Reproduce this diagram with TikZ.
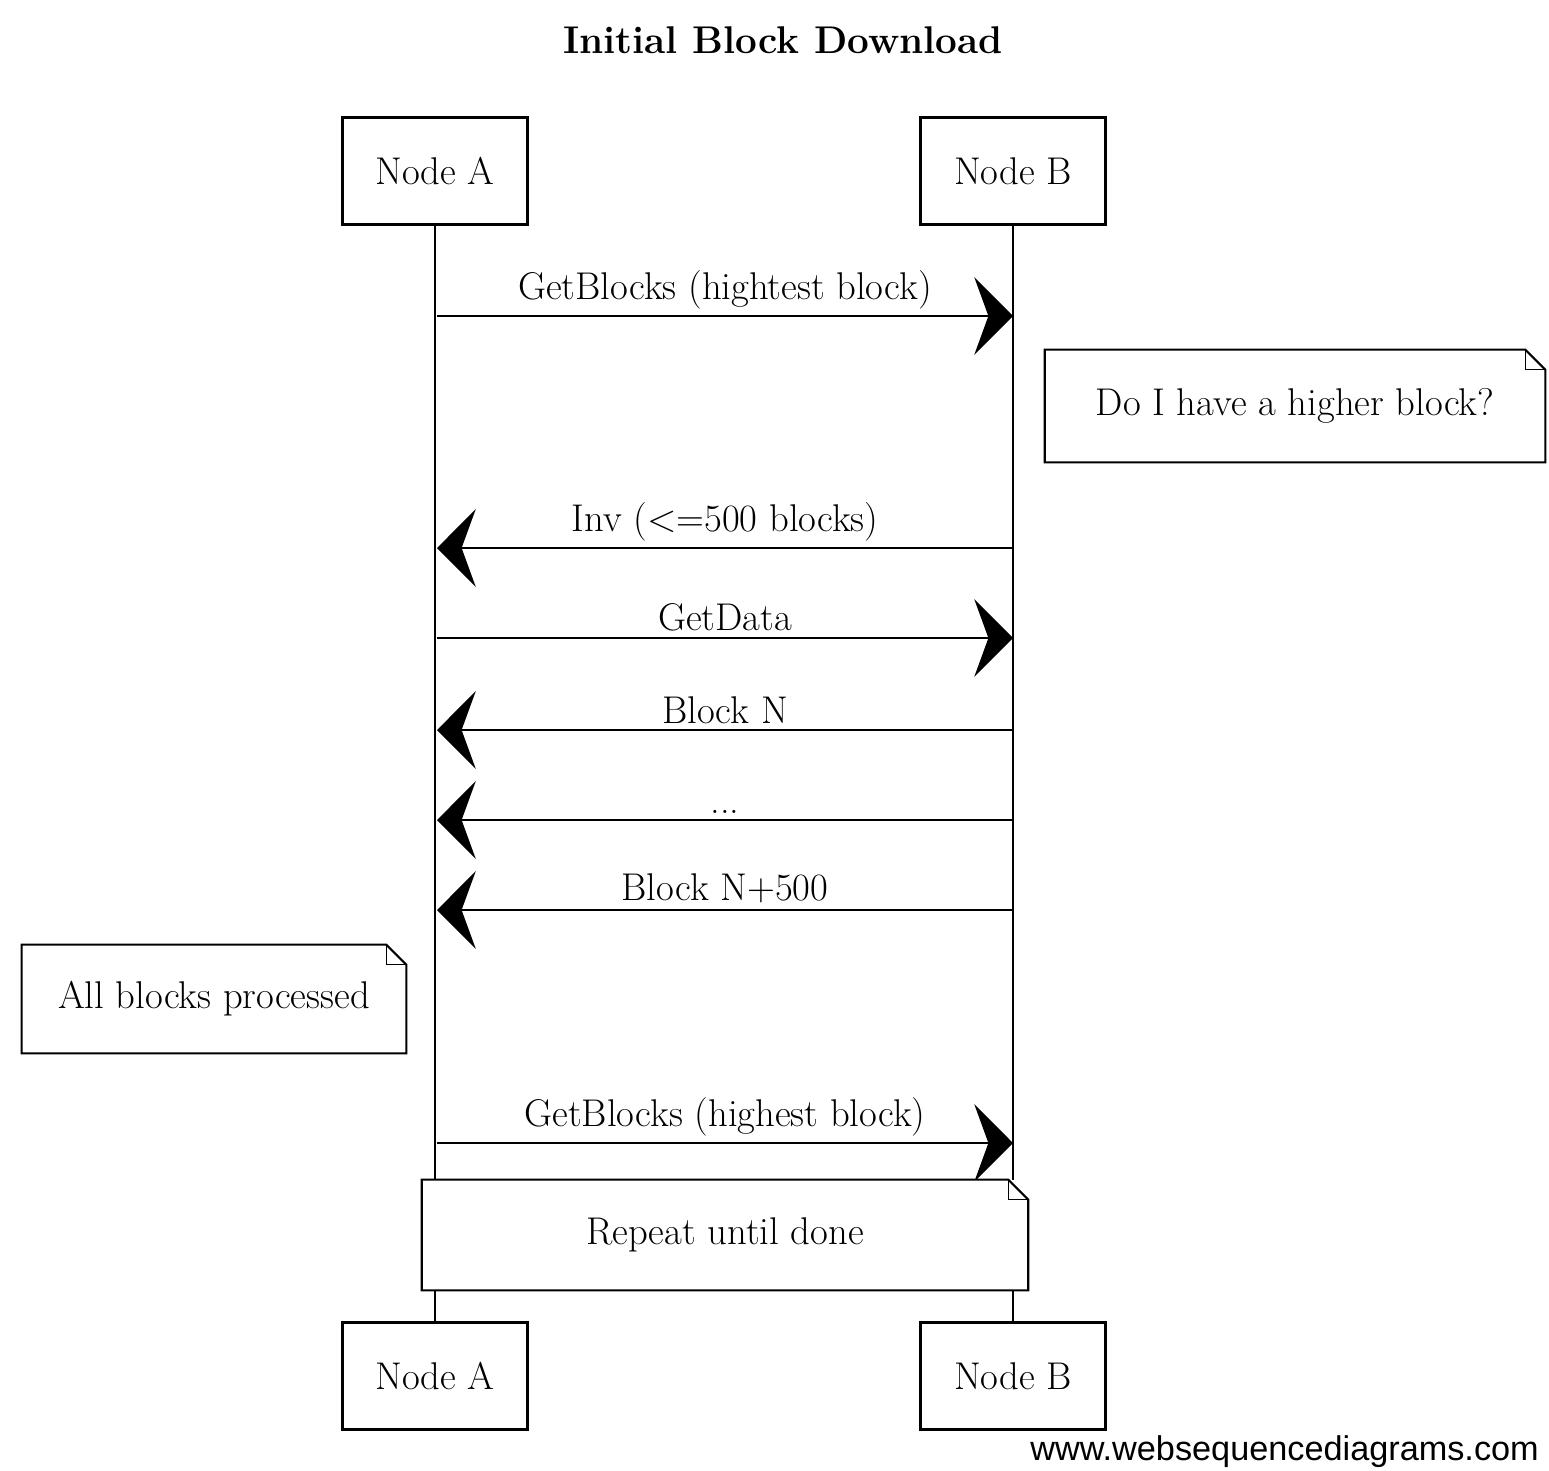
\documentclass[tikz,border=0pt]{standalone}
\usepackage{fontspec}
\usetikzlibrary{positioning,arrows.meta}
\newfontfamily\footfont{Liberation Sans}

% note outline with folded corner
\newcommand{\noteedge}[1]{%
  \draw[very thick] (#1.south west) -- (#1.south east) -- ([yshift=-0.4cm]#1.north east)
    -- ([xshift=-0.4cm]#1.north east) -- (#1.north west) -- cycle;
  \draw[thick] ([xshift=-0.4cm]#1.north east) |- ([yshift=-0.4cm]#1.north east);}

\begin{document}
\begin{tikzpicture}[x=0.02cm, y=-0.02cm,
    actor/.style={draw, very thick, minimum width=3.7cm, minimum height=2.14cm, font=\fontsize{22}{26}\selectfont},
    note/.style={fill=white, font=\fontsize{22}{26}\selectfont, inner sep=0pt},
    lbl/.style={font=\fontsize{22}{26}\selectfont, inner sep=3pt},
    msg/.style={line width=1.6pt, -{Stealth[length=22pt, width=44pt, inset=8pt]}}]
    \useasboundingbox (0,0) rectangle (1549,1471);

    % Tytuł
    \node[font=\bfseries\fontsize{22}{26}\selectfont] (title) at (783,40) {Initial Block Download};

    % Uczestnicy
    \node[actor] (topA) at (435,171) {Node A};
    \node[actor] (topB) at (1013,171) {Node B};
    \node[actor] (botA) at (435,1376) {Node A};
    \node[actor] (botB) at (1013,1376) {Node B};

    % Linie życia
    \draw[thick] (topA) -- (botA);
    \draw[thick] (topB) -- (botB);

    % Punkty na liniach życia
    \foreach \n/\y in {1/316, 2/548, 3/638, 4/730, 5/820, 6/910, 7/1143} {
        \coordinate (a\n) at (437,\y);
        \coordinate (b\n) at (1013,\y);
    }

    % Komunikaty
    \draw[msg] (a1) -- node[lbl, above] {GetBlocks (hightest block)} (b1);
    \draw[msg] (b2) -- node[lbl, above] {Inv (<=500 blocks)} (a2);
    \draw[msg] (a3) -- node[lbl, above] {GetData} (b3);
    \draw[msg] (b4) -- node[lbl, above] {Block N} (a4);
    \draw[msg] (b5) -- node[lbl, above] {...} (a5);
    \draw[msg] (b6) -- node[lbl, above] {Block N+500} (a6);
    \draw[msg] (a7) -- node[lbl, above] {GetBlocks (highest block)} (b7);

    % Notatki
    \node[note, minimum width=10cm, minimum height=2.24cm] (higher) at (1295,406) {Do I have a higher block?};
    \noteedge{higher}
    \node[note, minimum width=7.68cm, minimum height=2.16cm] (processed) at (214,999) {All blocks processed};
    \noteedge{processed}
    \node[note, minimum width=12.12cm, minimum height=2.2cm] (repeat) at (725,1235) {Repeat until done};
    \noteedge{repeat}

    % Stopka
    \node[anchor=east, font=\footfont\fontsize{19.5}{23}\selectfont] (footer) at (1545,1452) {www.websequencediagrams.com};
\end{tikzpicture}
\end{document}
